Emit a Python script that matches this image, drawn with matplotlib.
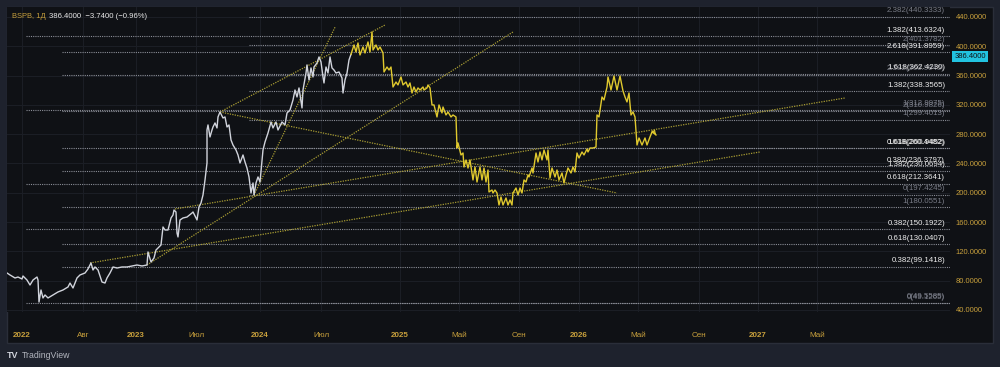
import matplotlib
matplotlib.use("Agg")
import matplotlib.pyplot as plt
from matplotlib.patches import Rectangle

plt.rcParams["font.family"] = ["Liberation Sans", "DejaVu Sans"]

# --- data -----------------------------------------------------------------
# x is a bar-position axis (left edge of chart = 7, right edge = 950)
white_x = [7, 10, 15, 18, 22, 23, 27, 30, 33, 37, 38, 39, 41, 43, 45, 48, 53, 58, 63, 68,
           70, 73, 77, 80, 85, 88, 91, 93, 95, 98, 102, 105, 107, 110, 113, 117, 122, 127, 132, 137,
           142, 147, 148, 151, 154, 156, 158, 161, 163, 165, 168, 171, 173, 174, 176, 177, 178, 180, 183, 187,
           192, 193, 197, 199, 201, 203, 205, 207, 207, 208, 210, 212, 213, 215, 217, 218, 220, 223, 225, 227,
           229, 231, 233, 236, 238, 240, 243, 245, 247, 249, 251, 253, 254, 256, 258, 260, 263, 265, 268, 271,
           273, 276, 278, 282, 285, 287, 290, 293, 295, 297, 299, 302, 303, 306, 307, 309, 311, 313, 314, 317,
           319, 321, 323, 324, 326, 328, 330, 332, 334, 336, 339, 342, 343, 345, 347, 349, 351]
white_p = [90.5, 87.8, 83.7, 85.0, 82.3, 86.4, 80.9, 74.1, 80.9, 85.0, 80.9, 50.9, 67.3, 56.4, 60.5, 56.4, 60.5, 64.6, 67.3, 71.4,
           76.8, 70.0, 83.7, 87.8, 90.5, 96.0, 104.2, 94.6, 98.7, 94.6, 78.2, 76.8, 83.7, 90.5, 98.7, 97.3, 98.7, 98.7, 100.1, 101.4,
           100.1, 101.4, 119.2, 105.5, 111.0, 121.9, 124.6, 128.7, 153.3, 149.2, 149.2, 165.6, 169.7, 176.5, 173.8, 145.1, 139.7, 162.9, 165.6, 166.9,
           172.4, 173.8, 162.9, 180.6, 186.1, 197.0, 217.5, 240.7, 285.7, 292.6, 276.2, 285.7, 289.8, 295.3, 288.5, 303.5, 310.3, 302.1, 303.5, 289.8,
           292.6, 272.1, 265.2, 258.4, 251.6, 240.7, 251.6, 242.0, 233.8, 221.6, 199.7, 213.4, 197.0, 213.4, 221.6, 214.7, 258.4, 269.3, 281.6, 296.6,
           288.5, 296.6, 285.7, 296.6, 292.6, 308.9, 313.0, 326.7, 340.3, 330.8, 343.1, 315.8, 340.3, 363.5, 374.5, 354.0, 370.4, 358.1, 371.7, 377.2,
           385.4, 378.6, 358.1, 349.9, 371.7, 363.5, 385.4, 370.4, 367.6, 363.5, 364.9, 356.7, 336.2, 354.0, 363.5, 381.3, 389.0]

# drawn forecast path (yellow)
fc_x = [351, 354, 356, 358, 360, 363, 365, 368, 370, 372, 373, 376, 378, 380, 383, 384, 387, 389, 391, 393,
        396, 398, 401, 403, 406, 408, 410, 412, 414, 416, 418, 420, 423, 424, 427, 428, 430, 432, 434, 437,
        439, 442, 443, 446, 448, 451, 453, 456, 457, 458, 461, 463, 464, 466, 468, 470, 473, 475, 477, 480,
        482, 484, 486, 488, 489, 492, 493, 495, 497, 499, 501, 503, 506, 508, 510, 512, 513, 516, 518, 520,
        522, 524, 526, 528, 529, 532, 533, 536, 538, 540, 542, 544, 547, 548, 550, 552, 555, 557, 559, 562,
        564, 566, 568, 571, 573, 575, 577, 579, 582, 584, 587, 588, 590, 593, 596, 597, 599, 602, 604, 607,
        608, 611, 614, 617, 620, 623, 625, 627, 629, 631, 633, 635, 637, 639, 642, 645, 647, 650, 652, 653,
        654, 656]
fc_p = [389.0, 401.8, 392.2, 404.5, 388.1, 399.0, 390.8, 405.9, 392.2, 419.5, 394.9, 401.8, 394.9, 399.0, 390.8, 364.9, 371.7, 367.6, 371.7, 344.4,
        351.2, 347.2, 358.1, 347.2, 351.2, 344.4, 349.9, 336.2, 344.4, 337.6, 343.1, 340.3, 344.4, 340.3, 343.1, 347.2, 343.1, 319.9, 319.9, 303.5,
        319.9, 309.0, 317.1, 306.2, 310.3, 303.5, 306.2, 303.5, 261.1, 268.0, 251.6, 254.3, 235.2, 244.8, 233.8, 244.8, 217.5, 235.2, 214.7, 235.2,
        217.5, 233.8, 214.7, 231.1, 201.1, 203.8, 199.7, 203.8, 199.7, 183.3, 194.3, 183.3, 192.9, 183.3, 190.2, 183.3, 199.7, 206.5, 197.0, 206.5,
        199.7, 217.5, 214.7, 224.3, 221.6, 233.8, 227.0, 254.3, 242.0, 255.7, 244.8, 258.4, 244.8, 258.4, 220.2, 233.8, 221.6, 231.1, 217.5, 227.0,
        213.4, 224.3, 233.8, 227.0, 235.2, 228.4, 254.3, 247.5, 255.7, 251.6, 259.8, 255.7, 261.1, 261.1, 262.5, 306.2, 303.5, 330.8, 326.7, 344.4,
        358.1, 340.3, 359.4, 340.3, 359.4, 339.0, 330.8, 324.0, 336.2, 306.2, 310.3, 303.5, 265.2, 274.8, 265.2, 274.8, 265.2, 276.2, 283.0, 284.4,
        281.6, 278.9]

# trend lines: (x0, p0, x1, p1)
trend_lines = [
    (175, 177.9, 845, 329.4),
    (147, 101.4, 513, 419.5),
    (254, 197.0, 335, 426.0),
    (220, 310.3, 617, 199.7),
    (90, 104.2, 760, 255.7),
    (220, 310.3, 385, 429.0),
]

# fibonacci sets: start bar, level names, level prices
fib_a_start = 26
fib_a_levels = ["0", "0.382", "0.618", "1", "1.382"]
fib_a_prices = [49.5585, 150.1922, 212.3641, 312.9975, 413.6324]

fib_b_start = 62
fib_b_levels = ["0", "0.382", "0.618", "1", "1.382", "1.618", "2", "2.382", "2.618"]
fib_b_prices = [49.1265, 99.1418, 130.0407, 180.0551, 230.0694, 260.9452, 310.9826, 360.9945, 391.8959]

fib_c_start = 249
fib_c_levels = ["0", "0.382", "0.618", "1", "1.382", "1.618", "2", "2.382"]
fib_c_prices = [197.4245, 236.3797, 260.4482, 299.4013, 338.3565, 362.4230, 401.3782, 440.3333]

x_ticks = [22, 83, 136, 196, 260, 321, 400, 459, 519, 579, 638, 699, 758, 817]
x_labels = ["2022", "Авг", "2023", "Июл", "2024", "Июл", "2025", "Май", "Сен", "2026", "Май", "Сен", "2027", "Май"]
y_ticks = [40, 80, 120, 160, 200, 240, 280, 320, 360, 400, 440]
last_price = 386.4

# --- colours ----------------------------------------------------------------
BG_OUT = "#1e222d"
BG = "#0f1115"
GRID = "#1b1e25"
GOLD = "#c8a03c"
WHITE = "#d1d4dc"
YELLOW = "#e0c92e"
TREND = "#a89c33"
FIB_LINE = "#8a8d96"
FIB_WHITE = "#ececec"
FIB_GREY = "#787b86"
grey_levels = {"0", "1", "2", "2.382"}

W, H = 1000, 367
fig = plt.figure(figsize=(W / 100, H / 100), dpi=100, facecolor=BG_OUT)
fig.patches.append(Rectangle((7 / W, 1 - 343 / H), 986 / W, 336 / H, transform=fig.transFigure,
                             facecolor=BG, edgecolor="#2a2e39", lw=1, zorder=-10))

ax = fig.add_axes([7 / W, 1 - 312 / H, 943 / W, 305 / H])
ax.set_facecolor(BG)
for s in ax.spines.values():
    s.set_visible(False)
ax.set_xlim(7, 950)
ax.set_ylim(37.25, 453.6)

ax.set_xticks(x_ticks)
ax.set_xticklabels(x_labels)
for lbl, txt in zip(ax.get_xticklabels(), x_labels):
    if txt.isdigit():
        lbl.set_fontweight("bold")
ax.tick_params(axis="x", length=0, pad=14.5, labelsize=5.8, labelcolor=GOLD)
ax.yaxis.tick_right()
ax.set_yticks(y_ticks)
ax.set_yticklabels([f"{v:.4f}" for v in y_ticks])
ax.tick_params(axis="y", length=0, pad=4, labelsize=5.5, labelcolor=GOLD)
ax.grid(True, color=GRID, lw=0.8)
ax.set_axisbelow(True)

# fib levels
for start, names, prices in [(fib_a_start, fib_a_levels, fib_a_prices),
                             (fib_b_start, fib_b_levels, fib_b_prices),
                             (fib_c_start, fib_c_levels, fib_c_prices)]:
    for name, p in zip(names, prices):
        ax.plot([start, 950], [p, p], color=FIB_LINE, lw=0.8, ls=(0, (1, 1)), zorder=2)
        col = FIB_GREY if name in grey_levels else FIB_WHITE
        ax.annotate(f"{name}({p:.4f})", xy=(945, p), xytext=(0, 1.8), textcoords="offset points",
                    ha="right", va="bottom", fontsize=5.7, color=col, zorder=5)

# trend lines
for x0, p0, x1, p1 in trend_lines:
    ax.plot([x0, x1], [p0, p1], color=TREND, lw=0.9, ls=(0, (1, 1)), zorder=3)

# price + forecast
ax.plot(white_x, white_p, color=WHITE, lw=1.0, zorder=4)
ax.plot(fc_x, fc_p, color=YELLOW, lw=1.0, zorder=4)
ax.annotate("", xy=(fc_x[-1], fc_p[-1]), xytext=(fc_x[-3], fc_p[-3]),
            arrowprops=dict(arrowstyle="->", color=YELLOW, lw=0.9, mutation_scale=6), zorder=4)

# last price badge
ax.annotate(f"{last_price:.4f}", xy=(950, last_price), xytext=(3, 0), textcoords="offset points",
            ha="left", va="center", fontsize=5.5, color="#0f1115", annotation_clip=False,
            bbox=dict(boxstyle="square,pad=0.25", fc="#22c3e0", ec="none"))

# header
fig.text(12 / W, 1 - 16 / H, "BSPB, 1Д", color=GOLD, fontsize=5.4, va="center", ha="left")
fig.text(49 / W, 1 - 16 / H, "386.4000  −3.7400 (−0.96%)", color="#e6e6e6", fontsize=5.6, va="center", ha="left")

# footer logo
fig.text(7 / W, 1 - 355 / H, "TV", color=WHITE, fontsize=6.5, fontweight="bold", va="center", ha="left")
fig.text(22 / W, 1 - 355 / H, "TradingView", color="#b2b5be", fontsize=6.3, va="center", ha="left")

fig.savefig("out.png", dpi=100, facecolor=BG_OUT)
